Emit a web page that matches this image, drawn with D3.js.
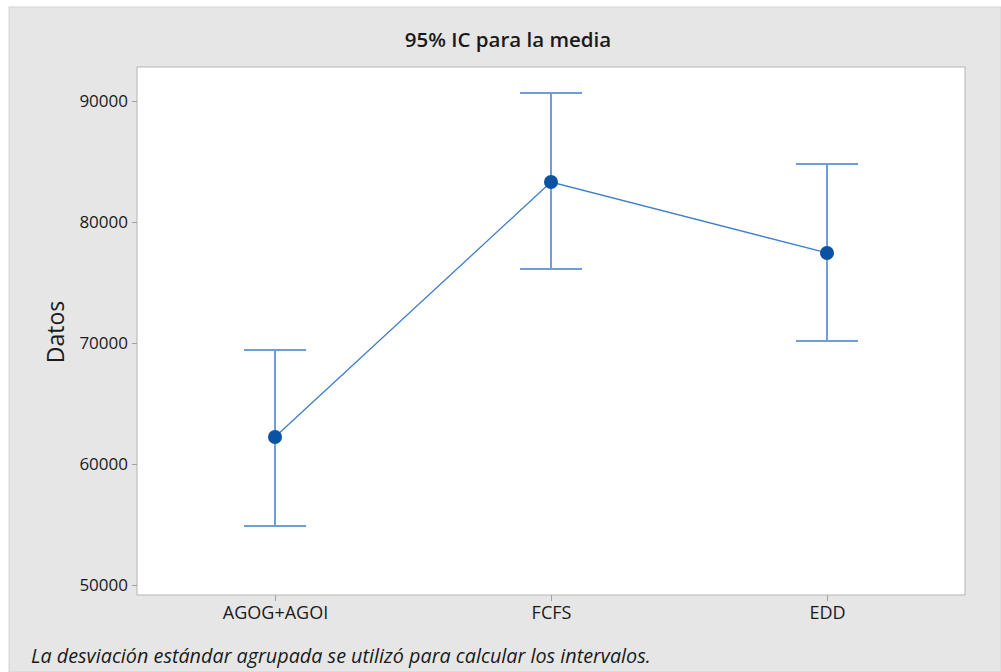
<!DOCTYPE html>
<html><head><meta charset="utf-8">
<script src="https://cdn.jsdelivr.net/npm/d3@7"></script>
<style>body{margin:0;background:#fff;}svg{display:block;}</style>
</head><body>
<script>
const categories = ["AGOG+AGOI", "FCFS", "EDD"];
const means = [62230, 83300, 77440];
const lowers = [54880, 76110, 70160];
const uppers = [69420, 90660, 84790];
const yTicks = [50000, 60000, 70000, 80000, 90000];

const W = 1001, H = 672;
const svg = d3.select("body").append("svg").attr("width", W).attr("height", H);
const font = "'Open Sans', 'Noto Sans', sans-serif";

svg.append("rect").attr("x", 9).attr("y", 7).attr("width", W - 9).attr("height", H - 7)
  .attr("fill", "#e6e6e6").attr("stroke", "#d4d4d4");

const L = 137, R = 965, T = 67, B = 595;
svg.append("rect").attr("x", L).attr("y", T).attr("width", R - L).attr("height", B - T)
  .attr("fill", "#fff").attr("stroke", "#b4b4b4");

const x = d3.scalePoint().domain(categories).range([L, R]).padding(0.5);
const y = d3.scaleLinear().domain([49174, 92810]).range([B, T]);

const yAxis = svg.append("g").attr("transform", `translate(${L},0)`)
  .call(d3.axisLeft(y).tickValues(yTicks).tickSize(5).tickPadding(4).tickFormat(d3.format("d")));
const xAxis = svg.append("g").attr("transform", `translate(0,${B})`)
  .call(d3.axisBottom(x).tickSize(6).tickPadding(5));
[yAxis, xAxis].forEach(g => {
  g.select(".domain").remove();
  g.selectAll(".tick line").attr("stroke", "#a0a0a0");
  g.selectAll(".tick text").attr("fill", "#1a1a1a").style("font-family", font).style("font-weight", 500);
});
yAxis.selectAll(".tick text").style("font-size", "17px").attr("dy", "0.35em");
xAxis.selectAll(".tick text").style("font-size", "18px").attr("dy", "0.7em");

const c = categories.map((k, i) => ({k, m: means[i], lo: lowers[i], hi: uppers[i]}));
const barCol = "#6d9fd6";
const g = svg.append("g");
g.selectAll("line.v").data(c).join("line")
  .attr("x1", d => x(d.k)).attr("x2", d => x(d.k))
  .attr("y1", d => y(d.lo)).attr("y2", d => y(d.hi))
  .attr("stroke", barCol).attr("stroke-width", 2);
["lo", "hi"].forEach(key => {
  g.selectAll("line.c" + key).data(c).join("line")
    .attr("x1", d => x(d.k) - 31).attr("x2", d => x(d.k) + 31)
    .attr("y1", d => y(d[key])).attr("y2", d => y(d[key]))
    .attr("stroke", barCol).attr("stroke-width", 2);
});
g.append("path").datum(c)
  .attr("d", d3.line().x(d => x(d.k)).y(d => y(d.m)))
  .attr("fill", "none").attr("stroke", "#3f7fcc").attr("stroke-width", 1.3);
g.selectAll("circle").data(c).join("circle")
  .attr("cx", d => x(d.k)).attr("cy", d => y(d.m)).attr("r", 7)
  .attr("fill", "#0a52a3");

svg.append("text").attr("x", 508).attr("y", 47).attr("text-anchor", "middle")
  .style("font-family", font).style("font-size", "20.5px").style("font-weight", 600)
  .attr("fill", "#1a1a1a").text("95% IC para la media");

svg.append("text").attr("transform", "translate(64,332) rotate(-90)").attr("text-anchor", "middle")
  .style("font-family", font).style("font-size", "23px").style("font-weight", 500)
  .attr("fill", "#1a1a1a").text("Datos");

svg.append("text").attr("x", 31).attr("y", 663)
  .style("font-family", font).style("font-size", "19.8px").style("font-style", "italic")
  .attr("fill", "#1a1a1a").text("La desviación estándar agrupada se utilizó para calcular los intervalos.");
</script>
</body></html>
